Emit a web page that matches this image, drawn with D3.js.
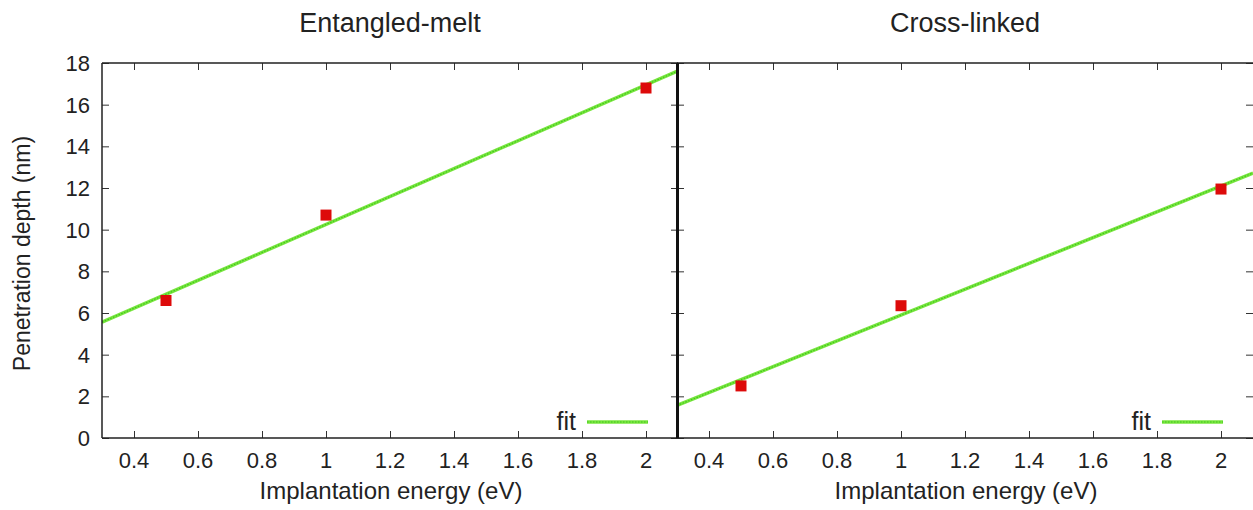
<!DOCTYPE html>
<html>
<head>
<meta charset="utf-8">
<script src="https://cdn.jsdelivr.net/npm/d3@7"></script>
<style>
  html, body { margin: 0; padding: 0; background: #fff; }
  svg { display: block; }
  text { font-family: "Liberation Sans", Arial, Helvetica, sans-serif; fill: #222; }
</style>
</head>
<body>
<svg id="chart" width="1253" height="510"></svg>
<script>
// Implantation energies (eV) and measured penetration depths (nm)
const energies = [0.5, 1, 2];
const meltDepth = [6.6, 10.7, 16.8];
const crossDepth = [2.5, 6.35, 11.95];

const panelTitles = ["Entangled-melt", "Cross-linked"];
const xTicks = [0.4, 0.6, 0.8, 1, 1.2, 1.4, 1.6, 1.8, 2];
const yTicks = [0, 2, 4, 6, 8, 10, 12, 14, 16, 18];
const xLabel = "Implantation energy (eV)";
const yLabel = "Penetration depth (nm)";
const legendLabel = "fit";

const svg = d3.select("#chart");
const plotTop = 63, plotBottom = 438;
const panels = [
  { title: panelTitles[0], depth: meltDepth, left: 102, right: 678, yLabels: true },
  { title: panelTitles[1], depth: crossDepth, left: 677, right: 1253, yLabels: false }
];

// ordinary least-squares line through the measured points
function linearFit(xs, ys) {
  const mx = d3.mean(xs), my = d3.mean(ys);
  let sxy = 0, sxx = 0;
  xs.forEach((x, i) => { sxy += (x - mx) * (ys[i] - my); sxx += (x - mx) * (x - mx); });
  const slope = sxy / sxx;
  return { slope, intercept: my - slope * mx };
}

const tickLen = 7;

panels.forEach(p => {
  const x = d3.scaleLinear().domain([0.3, 2.1]).range([p.left, p.right]);
  const y = d3.scaleLinear().domain([0, 18]).range([plotBottom, plotTop]);
  const g = svg.append("g");

  // inward ticks on all four sides
  g.append("g").attr("transform", `translate(0,${plotBottom})`)
    .call(d3.axisTop(x).tickValues(xTicks).tickSize(tickLen).tickFormat(""))
    .call(a => a.select(".domain").remove());
  g.append("g").attr("transform", `translate(0,${plotTop})`)
    .call(d3.axisBottom(x).tickValues(xTicks).tickSize(tickLen).tickFormat(""))
    .call(a => a.select(".domain").remove());
  g.append("g").attr("transform", `translate(${p.left},0)`)
    .call(d3.axisRight(y).tickValues(yTicks).tickSize(tickLen).tickFormat(""))
    .call(a => a.select(".domain").remove());
  g.append("g").attr("transform", `translate(${p.right},0)`)
    .call(d3.axisLeft(y).tickValues(yTicks).tickSize(tickLen).tickFormat(""))
    .call(a => a.select(".domain").remove());
  g.selectAll(".tick line").attr("stroke", "#333").attr("stroke-width", 1);

  // x tick labels
  g.append("g").selectAll("text").data(xTicks).join("text")
    .attr("x", d => x(d)).attr("y", 468)
    .attr("text-anchor", "middle").attr("font-size", 22)
    .text(d => d3.format("")(d));

  // y tick labels (left panel only)
  if (p.yLabels) {
    g.append("g").selectAll("text").data(yTicks).join("text")
      .attr("x", 90).attr("y", d => y(d) + 8)
      .attr("text-anchor", "end").attr("font-size", 22)
      .text(d => d);
    g.append("text")
      .attr("transform", `translate(30,${(plotTop + plotBottom) / 2 + 3}) rotate(-90)`)
      .attr("text-anchor", "middle").attr("font-size", 23)
      .text(yLabel);
  }

  // x axis title and panel title
  g.append("text").attr("x", (p.left + p.right) / 2 + 1).attr("y", 499)
    .attr("text-anchor", "middle").attr("font-size", 24).text(xLabel);
  g.append("text").attr("x", (p.left + p.right) / 2).attr("y", 32)
    .attr("text-anchor", "middle").attr("font-size", 27).text(p.title);

  // clip the fit line to the plot frame
  const clipId = "clip-" + p.left;
  svg.append("clipPath").attr("id", clipId).append("rect")
    .attr("x", p.left).attr("y", plotTop).attr("width", p.right - p.left).attr("height", plotBottom - plotTop);

  const fit = linearFit(energies, p.depth);
  const fx = x.domain();
  const fitLine = d3.line().x(d => x(d)).y(d => y(fit.intercept + fit.slope * d));
  g.append("path").datum(fx).attr("d", fitLine)
    .attr("clip-path", `url(#${clipId})`)
    .attr("fill", "none").attr("stroke", "#78e63e").attr("stroke-width", 3.5);
  g.append("path").datum(fx).attr("d", fitLine)
    .attr("clip-path", `url(#${clipId})`)
    .attr("fill", "none").attr("stroke", "#3fc41f").attr("stroke-width", 1.2)
    .attr("stroke-dasharray", "1.5,1.5");

  // measured points
  const s = 11;
  g.append("g").selectAll("rect").data(energies).join("rect")
    .attr("x", (d) => x(d) - s / 2)
    .attr("y", (d, i) => y(p.depth[i]) - s / 2)
    .attr("width", s).attr("height", s)
    .attr("fill", "#dd0a0a");

  // legend
  const lx1 = p.right - 91, lx2 = p.right - 30, ly = 422;
  g.append("text").attr("x", lx1 - 11).attr("y", ly + 8)
    .attr("text-anchor", "end").attr("font-size", 25).text(legendLabel);
  g.append("line").attr("x1", lx1).attr("x2", lx2).attr("y1", ly).attr("y2", ly)
    .attr("stroke", "#78e63e").attr("stroke-width", 3.5);
  g.append("line").attr("x1", lx1).attr("x2", lx2).attr("y1", ly).attr("y2", ly)
    .attr("stroke", "#3fc41f").attr("stroke-width", 1.2).attr("stroke-dasharray", "1.5,1.5");

  // frame
  g.append("path")
    .attr("d", `M${p.left},${plotTop}H${p.right}M${p.left},${plotBottom}H${p.right}M${p.left},${plotTop}V${plotBottom}`)
    .attr("fill", "none").attr("stroke", "#222").attr("stroke-width", 1.5);
});

// shared border between the two panels
svg.append("line").attr("x1", 677.5).attr("x2", 677.5).attr("y1", plotTop).attr("y2", plotBottom)
  .attr("stroke", "#111").attr("stroke-width", 3);
</script>
</body>
</html>
